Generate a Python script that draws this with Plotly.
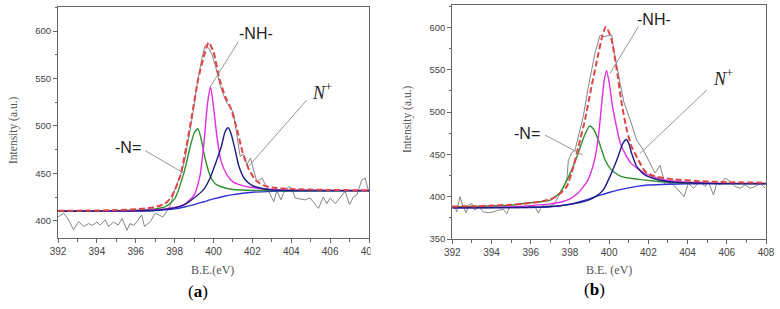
import plotly.graph_objects as go

# ---------------- Panel (a) data ----------------
A_RAW_X = [392.0, 392.3, 392.55, 392.8, 393.06, 393.32, 393.58, 393.75, 394.0, 394.17, 394.43, 394.6, 394.86,
           395.1, 395.3, 395.55, 395.7, 395.9, 396.06, 396.3, 396.45, 396.75, 397.0, 397.2, 397.4, 397.6, 397.8,
           397.95, 398.15, 398.37, 398.54, 398.72, 398.9, 399.15, 399.4, 399.57, 399.75, 399.91, 400.09, 400.34,
           400.5, 400.69, 400.86, 401.03, 401.2, 401.37, 401.55, 401.72, 401.9, 402.06, 402.23, 402.5, 402.75,
           402.9, 403.1, 403.26, 403.47, 403.6, 403.86, 404.03, 404.2, 404.46, 404.72, 404.97, 405.14, 405.4,
           405.65, 405.83, 406.0, 406.26, 406.5, 406.77, 407.0, 407.2, 407.37, 407.63, 407.8, 407.97]
A_RAW_Y = [404, 408, 400.7, 390.5, 399, 394, 397, 395, 398.5, 395.5, 401, 394, 398.5,
           395.5, 402.5, 390, 397, 395, 399, 406, 394, 399, 408, 406, 404, 410, 417,
           429, 440, 452, 466, 487, 508, 543, 571, 585, 582, 576, 564, 543,
           533, 524, 520, 513, 490, 468, 470, 459, 466, 455, 441, 445, 434,
           429, 420, 432, 422, 429, 436, 434, 424, 423, 422, 424, 420, 413,
           425, 418, 424, 418, 424, 431, 417, 425, 427, 443, 445, 432]

A_BG_X = [392, 396, 397, 397.5, 398, 398.5, 399, 399.5, 400, 400.5, 401, 401.5, 402, 403, 404, 408]
A_BG_Y = [410, 410.3, 410.8, 411.5, 412.5, 414.5, 417, 420, 423, 425.5, 427.5, 429, 430, 431, 431.4, 431.6]

A_NEQ_X = [392, 396, 397, 397.5, 398, 398.5, 398.8, 399.0, 399.2, 399.4, 399.5, 399.6, 399.8, 400.0, 400.2,
           400.6, 401, 402, 403, 404, 408]
A_NEQ_Y = [410.2, 411, 412.5, 414.5, 423, 452, 478, 492, 497, 483, 472, 463, 449, 441, 437.5,
           434.5, 433, 432, 431.8, 431.6, 431.7]

A_NH_X = [392, 396, 397, 397.5, 398, 398.5, 399, 399.3, 399.5, 399.7, 399.85, 400.0, 400.2, 400.4, 400.7,
          401, 401.5, 402, 403, 404, 408]
A_NH_Y = [410.1, 410.6, 411.5, 412.5, 414, 417, 427, 447, 480, 525, 541, 520, 485, 462, 448,
          441, 437, 435, 433, 432.3, 431.8]

A_NP_X = [392, 396, 397, 397.5, 398, 398.5, 399, 399.5, 399.8, 400.1, 400.4, 400.6, 400.75, 400.9, 401.1,
          401.3, 401.6, 402, 402.5, 403, 404, 408]
A_NP_Y = [410, 410.4, 411, 412, 413.5, 417, 424, 433, 444, 460, 478, 494, 498, 492, 476,
          458, 444, 437, 434, 432.5, 431.8, 431.7]

A_SUM_X = [392, 394, 395, 396, 396.5, 397, 397.5, 397.8, 398.0, 398.3, 398.6, 398.9, 399.2, 399.5, 399.75,
           400.0, 400.3, 400.6, 400.9, 401.2, 401.5, 401.8, 402.2, 402.6, 403, 404, 405, 406, 408]
A_SUM_Y = [410.5, 410.8, 411.2, 412, 413, 414.5, 418, 424, 432, 448, 478, 512, 548, 573, 588,
           578, 550, 531, 518, 497, 472, 455, 442, 437, 435, 433.5, 432.8, 432.4, 432.2]

# ---------------- Panel (b) data ----------------
B_RAW_X = [392.0, 392.14, 392.22, 392.39, 392.56, 392.7, 392.82, 392.99, 393.16, 393.33, 393.58, 393.84, 394.1,
           394.35, 394.6, 394.78, 394.94, 395.2, 395.5, 395.8, 396.0, 396.22, 396.39, 396.56, 396.98, 397.2,
           397.41, 397.67, 397.84, 397.92, 398.09, 398.26, 398.43, 398.68, 398.94, 399.28, 399.54, 399.7,
           399.9, 400.13, 400.3, 400.5, 400.75, 401.07, 401.4, 401.75, 402.1, 402.34, 402.6, 402.85, 403.19,
           403.45, 403.82, 404.04, 404.3, 404.64, 404.89, 405.06, 405.32, 405.49, 405.66, 405.91, 406.17,
           406.42, 406.68, 406.93, 407.19, 407.44, 407.7, 407.95]
B_RAW_Y = [389, 388, 382, 400, 388, 381, 390, 392, 384, 389, 382, 381, 382,
           384, 385, 380, 388, 387, 388, 387, 388.5, 388, 380.5, 389, 389, 391,
           400, 412, 420, 443, 452, 455, 471, 495, 530, 570, 591, 589,
           590, 591, 565, 540, 512, 491, 467, 455, 440, 428, 437, 414, 416,
           410, 400, 416, 410, 418, 412, 418, 402, 416, 414, 422, 418,
           412, 410, 414, 410, 412, 416, 410]

B_BG_X = [392, 396, 397, 398, 398.5, 399, 399.5, 400, 400.5, 401, 401.5, 402, 403, 404, 408]
B_BG_Y = [387, 387.2, 388, 391, 394, 397.5, 401.5, 405, 408, 410.5, 412.5, 413.8, 414.8, 415.2, 415.3]

B_NEQ_X = [392, 394, 395, 395.6, 396.5, 397, 397.5, 398, 398.4, 398.7, 399.0, 399.2, 399.45, 399.8, 400.1,
           400.6, 401.5, 402.5, 403.5, 405, 408]
B_NEQ_Y = [388, 389, 390, 392, 394, 396, 405, 427, 450, 470, 483.5, 480, 467, 443, 432,
           424, 420.5, 418, 416.5, 415.8, 415.5]

B_NH_X = [392, 395, 396, 397, 397.6, 398, 398.4, 398.9, 399.25, 399.45, 399.62, 399.75, 399.87, 400.0, 400.15,
          400.3, 400.6, 401.1, 401.8, 402.6, 403.5, 405, 408]
B_NH_Y = [387.3, 388, 389.5, 391.5, 394, 397.5, 404, 419, 443, 471, 510, 538, 549, 535, 510,
          491, 461, 440, 428, 421, 418, 416.3, 415.6]

B_NP_X = [392, 396, 397, 397.75, 398.5, 398.94, 399.3, 399.7, 400.1, 400.45, 400.7, 400.87, 401.0, 401.15,
          401.4, 401.8, 402.5, 403.4, 405, 408]
B_NP_Y = [387, 387.5, 388.5, 390, 393, 396, 400, 408, 427, 447, 463, 467.6, 463, 451,
          436, 426, 420, 417, 415.8, 415.4]

B_SUM_X = [392, 393, 394, 395, 395.6, 396.3, 397, 397.4, 397.84, 398.17, 398.43, 398.77, 399.1, 399.45, 399.65,
           399.83, 400.0, 400.13, 400.39, 400.64, 400.9, 401.15, 401.5, 401.83, 402.34, 403.36, 404.5, 406, 408]
B_SUM_Y = [388.5, 388.7, 389.5, 390.5, 391.5, 393.5, 397, 402, 412, 435, 459, 491, 530, 569, 590,
           601, 594, 585, 550, 510, 479, 459, 443, 430, 424, 420.5, 418.5, 417.2, 416.5]

X_TICKS = [392, 394, 396, 398, 400, 402, 404, 406, 408]
A_Y_TICKS = [400, 450, 500, 550, 600]
B_Y_TICKS = [350, 400, 450, 500, 550, 600]

# ---------------- styles ----------------
C_RAW = "#858585"
C_BG = "#3030d8"
C_NEQ = "#2f8f2f"
C_NH = "#e02ee0"
C_NP = "#1c1c86"
C_SUM = "#e04545"
SPL = dict(shape="spline", smoothing=0.6)

fig = go.Figure()


def add_panel(xa, ya, raw, bg, neq, nh, npl, tot):
    fig.add_trace(go.Scatter(x=raw[0], y=raw[1], xaxis=xa, yaxis=ya, mode="lines",
                             line=dict(color=C_RAW, width=1), showlegend=False, hoverinfo="skip"))
    for (xs, ys), col in [(bg, C_BG), (neq, C_NEQ), (nh, C_NH), (npl, C_NP)]:
        fig.add_trace(go.Scatter(x=xs, y=ys, xaxis=xa, yaxis=ya, mode="lines",
                                 line=dict(color=col, width=1.4, **SPL), showlegend=False))
    fig.add_trace(go.Scatter(x=tot[0], y=tot[1], xaxis=xa, yaxis=ya, mode="lines",
                             line=dict(color=C_SUM, width=2, dash="6px,3px", **SPL), showlegend=False))


add_panel("x", "y", (A_RAW_X, A_RAW_Y), (A_BG_X, A_BG_Y), (A_NEQ_X, A_NEQ_Y),
          (A_NH_X, A_NH_Y), (A_NP_X, A_NP_Y), (A_SUM_X, A_SUM_Y))
add_panel("x2", "y2", (B_RAW_X, B_RAW_Y), (B_BG_X, B_BG_Y), (B_NEQ_X, B_NEQ_Y),
          (B_NH_X, B_NH_Y), (B_NP_X, B_NP_Y), (B_SUM_X, B_SUM_Y))

W, H = 780, 309
AX_COL = "#666666"
TICKFONT = dict(family="Liberation Sans, Arial", size=10, color="#444444")


def xaxis(dom, anchor):
    return dict(domain=dom, anchor=anchor, range=[392, 408], tickvals=X_TICKS, automargin=False,
                showline=True, mirror=True, linecolor=AX_COL, linewidth=1,
                ticks="outside", ticklen=4, tickcolor=AX_COL, tickfont=TICKFONT,
                minor=dict(dtick=1, ticks="outside", ticklen=2.5, tickcolor=AX_COL),
                showgrid=False, zeroline=False)


def yaxis(dom, anchor, rng, tv):
    return dict(domain=dom, anchor=anchor, range=rng, tickvals=tv, automargin=False,
                showline=True, mirror=True, linecolor=AX_COL, linewidth=1,
                ticks="outside", ticklen=4, tickcolor=AX_COL,
                tickfont=dict(family="Liberation Sans, Arial", size=9.5, color="#444444"),
                minor=dict(dtick=25, ticks="outside", ticklen=2.5, tickcolor=AX_COL),
                showgrid=False, zeroline=False)


fig.update_layout(
    template="none",
    width=W, height=H, margin=dict(l=0, r=0, t=0, b=0, pad=0), autosize=False,
    paper_bgcolor="white", plot_bgcolor="white", showlegend=False,
    xaxis=xaxis([58 / W, 369 / W], "y"),
    yaxis=yaxis([1 - 238 / H, 1 - 7 / H], "x", [381.8, 625.3], A_Y_TICKS),
    xaxis2=xaxis([452.3 / W, 766 / W], "y2"),
    yaxis2=yaxis([1 - 239 / H, 1 - 5 / H], "x2", [350, 626.6], B_Y_TICKS),
)

SERIF = "Liberation Serif, Times New Roman"
SANS = "Liberation Sans, Arial"
LEAD = dict(color="#8a8a8a", width=0.9)


def px(xp, yp):
    return dict(xref="paper", yref="paper", x=xp / W, y=1 - yp / H)


anns = [
    # axis titles
    dict(text="B.E.(eV)", font=dict(family=SERIF, size=12, color="#555"), **px(213, 270)),
    dict(text="B.E. (eV)", font=dict(family=SERIF, size=12, color="#555"), **px(609, 270)),
    dict(text="Intensity (a.u.)", textangle=-90, font=dict(family=SERIF, size=11.5, color="#555"), **px(13, 130)),
    dict(text="Intensity (a.u.)", textangle=-90, font=dict(family=SERIF, size=11.5, color="#555"), **px(407, 119)),
    # panel labels
    dict(text="(<b>a</b>)", font=dict(family=SERIF, size=17, color="black"), **px(198, 291)),
    dict(text="(<b>b</b>)", font=dict(family=SERIF, size=17, color="black"), **px(594, 289)),
    # peak labels panel a
    dict(text="-NH-", font=dict(family=SANS, size=16, color="#222"), xref="x", yref="y", x=402.2, y=597),
    dict(text="-N=", font=dict(family=SANS, size=16, color="#222"), xref="x", yref="y", x=395.6, y=477),
    dict(text="<i>N</i><sup>+</sup>", font=dict(family=SERIF, size=18, color="#222"), xref="x", yref="y",
         x=405.6, y=536),
    # peak labels panel b
    dict(text="-NH-", font=dict(family=SANS, size=16, color="#222"), xref="x2", yref="y2", x=402.3, y=610),
    dict(text="-N=", font=dict(family=SANS, size=16, color="#222"), xref="x2", yref="y2", x=395.8, y=475),
    dict(text="<i>N</i><sup>+</sup>", font=dict(family=SERIF, size=18, color="#222"), xref="x2", yref="y2",
         x=405.8, y=541),
]
for a in anns:
    a.setdefault("showarrow", False)
    a.setdefault("xanchor", "center")
    a.setdefault("yanchor", "middle")
    fig.add_annotation(**a)

shapes = [
    dict(type="line", xref="x", yref="y", x0=401.27, y0=588.5, x1=399.83, y1=541, line=LEAD),
    dict(type="line", xref="x", yref="y", x0=396.49, y0=473.8, x1=398.49, y1=450, line=LEAD),
    dict(type="line", xref="x", yref="y", x0=404.8, y0=527.3, x1=401.72, y1=455.3, line=LEAD),
    dict(type="line", xref="x2", yref="y2", x0=401.49, y0=601, x1=400.05, y1=546, line=LEAD),
    dict(type="line", xref="x2", yref="y2", x0=396.73, y0=472.9, x1=398.65, y1=449.3, line=LEAD),
    dict(type="line", xref="x2", yref="y2", x0=404.98, y0=526.1, x1=401.58, y1=451.3, line=LEAD),
    # crop edge of panel (a): the last tick label is cut in the original
    dict(type="rect", xref="paper", yref="paper", x0=370.5 / W, x1=388 / W, y0=1 - 262 / H, y1=1 - 241 / H,
         fillcolor="white", line=dict(width=0), layer="above"),
]
for s in shapes:
    fig.add_shape(**s)

# remove the browser's default 8px body margin so the figure sits at the window origin
fig.write_html("out.html", config={"displayModeBar": False},
               post_script="document.body.style.margin='0';")
